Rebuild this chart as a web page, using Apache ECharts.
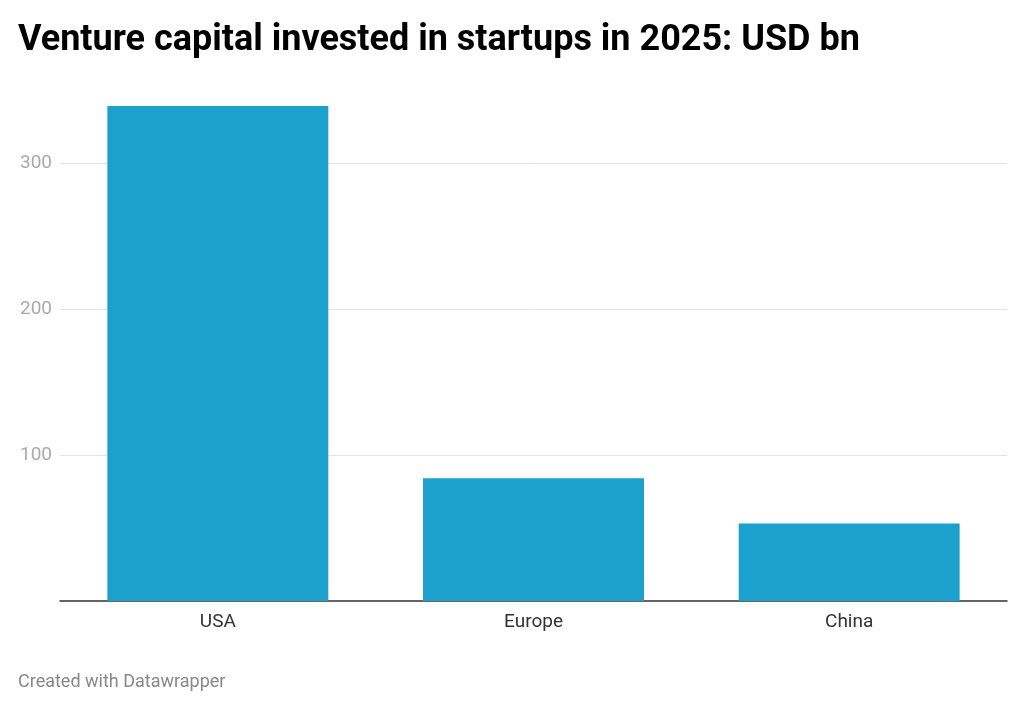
<!DOCTYPE html>
<html>
<head>
<meta charset="utf-8">
<script src="https://cdn.jsdelivr.net/npm/echarts@6/dist/echarts.min.js"></script>
<style>
  html, body { margin: 0; padding: 0; background: #fff; }
  #chart { width: 1024px; height: 709px; }
</style>
</head>
<body>
<div id="chart"></div>
<script>
// data
var regions = ["USA", "Europe", "China"];
var investedBn = [339, 84, 53];
var yTicks = [100, 200, 300];

var myChart = echarts.init(document.getElementById("chart"));
var option = {
    animation: false,
    textStyle: { fontFamily: "Roboto" },
    title: [{
        text: "Venture capital invested in startups in 2025: USD bn",
        left: 18, top: 23, padding: 0,
        textStyle: { fontSize: 36, fontWeight: "bold", color: "#000", fontFamily: "Roboto" }
    }, {
        text: "Created with Datawrapper",
        left: 18, top: 673, padding: 0,
        textStyle: { fontSize: 18, fontWeight: "normal", color: "#888", fontFamily: "Roboto" }
    }],
    grid: { left: 60, right: 17, top: 90, bottom: 108, containLabel: false },
    xAxis: {
        type: "category",
        data: regions,
        axisTick: { show: false },
        axisLine: { lineStyle: { color: "#333", width: 1.5 } },
        axisLabel: { color: "#333", fontSize: 19, margin: 12 }
    },
    yAxis: {
        type: "value",
        min: 0, max: 350, interval: 100,
        axisLine: { show: false },
        axisTick: { show: false },
        axisLabel: {
            color: "#aaa", fontSize: 19, margin: 8,
            showMinLabel: false, showMaxLabel: false,
            formatter: function (v) { return yTicks.indexOf(v) >= 0 ? String(v) : ""; }
        },
        splitLine: { showMinLine: false, showMaxLine: false, lineStyle: { color: "#e3e3e3", width: 1 } }
    },
    series: [{
        type: "bar",
        data: investedBn,
        barWidth: "70%",
        itemStyle: { color: "#1ba1cc" }
    }]
};
myChart.setOption(option);
</script>
</body>
</html>
